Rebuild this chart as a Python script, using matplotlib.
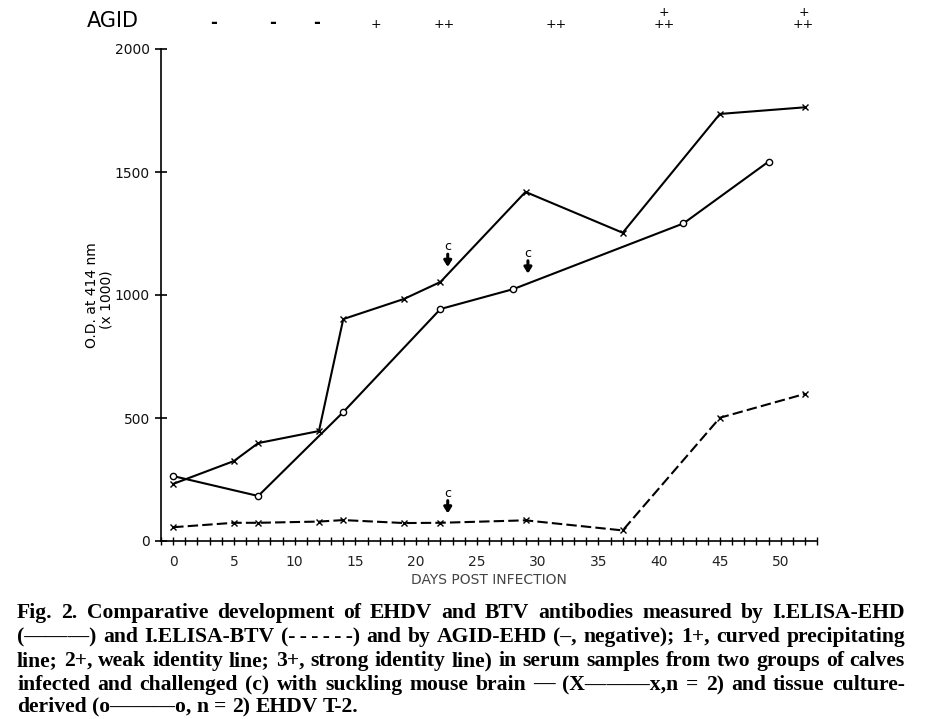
import matplotlib
matplotlib.use("Agg")
import matplotlib.pyplot as plt
from matplotlib.ticker import MultipleLocator, FixedLocator

# ---------------- data ----------------
days_smb = [0, 5, 7, 12, 14, 19, 22, 29, 37, 45, 52]
ehd_smb = [232, 325, 398, 447, 902, 984, 1053, 1419, 1253, 1736, 1763]
btv_smb = [56, 74, 74, 79, 85, 73, 74, 84, 43, 501, 598]

days_tc = [0, 7, 14, 22, 28, 42, 49]
ehd_tc = [264, 183, 524, 943, 1024, 1291, 1542]

challenge_days = [22.6, 29.2, 22.6]
challenge_y = [1196, 1169, 194]

agid_days = [3.3, 8.2, 11.8, 16.7, 22.3, 31.5, 40.4, 51.9]
agid_lower = ["-", "-", "-", "+", "++", "++", "++", "++"]
agid_upper = ["", "", "", "", "", "", "+", "+"]

yticks = [0, 500, 1000, 1500, 2000]
xticks = list(range(0, 55, 5))

caption_lines = [
    "Fig. 2. Comparative development of EHDV and BTV antibodies measured by I.ELISA-EHD",
    "(\u2014\u2014\u2014) and I.ELISA-BTV (-\u2009-\u2009-\u2009-\u2009-\u2009-) and by AGID-EHD (\u2013, negative); 1+, curved precipitating",
    "line; 2+, weak identity line; 3+, strong identity line) in serum samples from two groups of calves",
    "infected and challenged (c) with suckling mouse brain \u2014 (X\u2015\u2015\u2015x,n = 2) and tissue culture-",
    "derived (o\u2014\u2014\u2014o, n = 2) EHDV T-2.",
]

# ---------------- figure ----------------
W, H = 925, 719
fig = plt.figure(figsize=(W / 100, H / 100), dpi=100)
px_per_day = 12.15
x0, x1 = -1, 53
ax_left = 161
ax_w = (x1 - x0) * px_per_day
ax = fig.add_axes([ax_left / W, 178 / H, ax_w / W, 492 / H])

ax.plot(days_smb, ehd_smb, color="black", lw=1.5, marker="x", ms=5, mew=1.0)
ax.plot(days_tc, ehd_tc, color="black", lw=1.5, marker="o", ms=4.5, mew=1.0,
        mfc="white", mec="black")
ax.plot(days_smb, btv_smb, color="black", lw=1.5, ls=(0, (5, 2)), marker="x",
        ms=5, mew=1.0)

ax.set_xlim(x0, x1)
ax.set_ylim(0, 2000)
for s in ["top", "right"]:
    ax.spines[s].set_visible(False)
for s in ["left", "bottom"]:
    ax.spines[s].set_linewidth(1.2)

ax.xaxis.set_major_locator(FixedLocator(xticks))
ax.xaxis.set_minor_locator(MultipleLocator(1))
ax.yaxis.set_major_locator(FixedLocator(yticks))
ax.tick_params(axis="x", which="both", direction="inout", length=6, width=1,
               labelsize=10, pad=7, labelcolor="#222222")
ax.tick_params(axis="y", which="major", direction="inout", length=8, width=1.2,
               labelsize=10, pad=4, labelcolor="#111111")
ax.set_xticklabels([str(v) for v in xticks])
ax.set_yticklabels([str(v) for v in yticks])

ax.set_xlabel("DAYS POST INFECTION", fontsize=10, color="#444444", labelpad=3)

# y label (two lines)
fig.text(92 / W, 1 - 295 / H, "O.D. at 414 nm", rotation=90, ha="center",
         va="center", fontsize=10)
fig.text(107 / W, 1 - 300 / H, "(x 1000)", rotation=90, ha="center",
         va="center", fontsize=10)

# challenge arrows
for cx, cy in zip(challenge_days, challenge_y):
    ax.text(cx, cy, "c", ha="center", va="center", fontsize=9)
    ax.annotate("", xy=(cx, cy - 82), xytext=(cx, cy - 30),
                arrowprops=dict(arrowstyle="-|>,head_width=0.22,head_length=0.35",
                                lw=2.2, color="black", shrinkA=0, shrinkB=0))

# AGID row
fig.text(87 / W, 1 - 21 / H, "AGID", ha="left", va="center", fontsize=15)
trans = matplotlib.transforms.blended_transform_factory(ax.transData, fig.transFigure)
for d, lo, up in zip(agid_days, agid_lower, agid_upper):
    if lo == "-":
        ax.text(d, 1 - 23 / H, "-", transform=trans, ha="center", va="center",
                fontsize=12, fontweight="bold")
    else:
        ax.text(d, 1 - 25 / H, lo, transform=trans, ha="center", va="center",
                fontsize=9)
    if up:
        ax.text(d, 1 - 12 / H, up, transform=trans, ha="center", va="center",
                fontsize=9)

# caption, justified
renderer = fig.canvas.get_renderer()
left_px, right_px = 17, 905
target = right_px - left_px


def natural_width(line, size):
    t = fig.text(0, 0, line, family="Liberation Serif", fontweight="bold",
                 fontsize=size)
    w = t.get_window_extent(renderer).width
    t.remove()
    return w


widest = max(natural_width(l, 10) for l in caption_lines[:4])
cap_size = 10 * (target - 6) / widest
cap_font = dict(family="Liberation Serif", fontweight="bold", fontsize=cap_size)

line_y = [613, 637, 661, 685, 707]
for i, (line, yy) in enumerate(zip(caption_lines, line_y)):
    words = line.split(" ")
    texts = [fig.text(0, 1 - yy / H, w, ha="left", va="center", **cap_font)
             for w in words]
    widths = [t.get_window_extent(renderer).width for t in texts]
    if i < len(caption_lines) - 1 and len(words) > 1:
        gap = (target - sum(widths)) / (len(words) - 1)
    else:
        gap = natural_width("a a", cap_size) - natural_width("aa", cap_size)
    x = left_px
    for t, w in zip(texts, widths):
        t.set_x(x / W)
        x += w + gap

fig.savefig("out.png", dpi=100)
